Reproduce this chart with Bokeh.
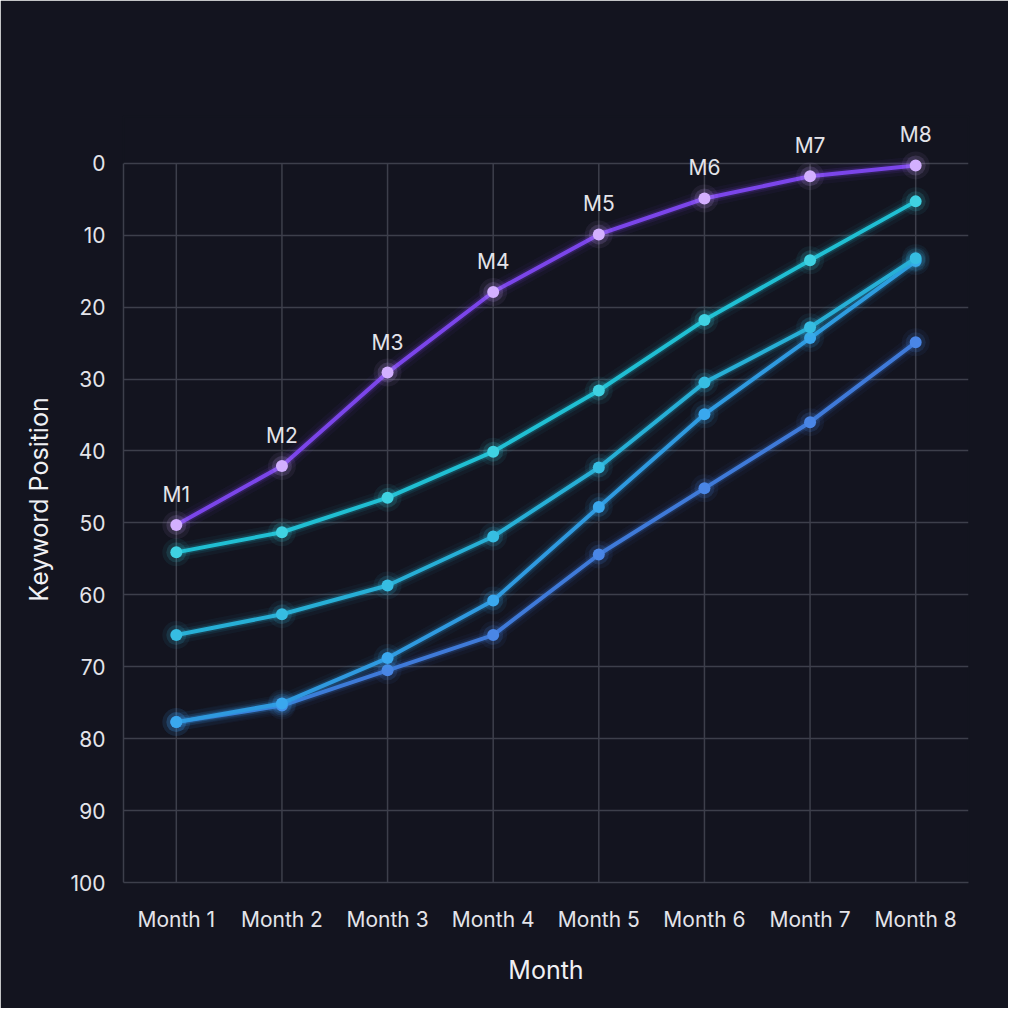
from bokeh.plotting import figure
from bokeh.models import Range1d, FixedTicker, ColumnDataSource, LabelSet
from bokeh.embed import file_html
from bokeh.resources import INLINE
from bokeh.core.properties import value

months = ["Month 1", "Month 2", "Month 3", "Month 4", "Month 5", "Month 6", "Month 7", "Month 8"]
point_labels = ["M1", "M2", "M3", "M4", "M5", "M6", "M7", "M8"]
x_idx = [1, 2, 3, 4, 5, 6, 7, 8]

kw_a = [50.3, 42.1, 29.1, 17.9, 9.9, 4.9, 1.8, 0.3]
kw_b = [54.1, 51.3, 46.5, 40.1, 31.6, 21.8, 13.5, 5.3]
kw_c = [65.6, 62.7, 58.7, 51.9, 42.3, 30.5, 22.8, 13.2]
kw_d = [77.7, 75.1, 68.8, 60.8, 47.8, 34.9, 24.3, 13.6]
kw_e = [77.7, 75.4, 70.5, 65.6, 54.4, 45.2, 36.0, 24.9]

y_ticks = [0, 10, 20, 30, 40, 50, 60, 70, 80, 90, 100]
y_min, y_max = 0, 100

BG = "#13141f"
GRID = "#3d3f4b"
TXT = "#e4e4ea"
FONT = "Inter"

# frame extends a little above position 0 so the M labels are not clipped
p = figure(width=1008, height=1008, output_backend="svg", toolbar_location=None,
           x_range=Range1d(0.5, 8.5), y_range=Range1d(y_max, y_min - 6.5),
           min_border_left=123, min_border_right=40, min_border_top=116, min_border_bottom=126)
p.background_fill_color = BG
p.border_fill_color = BG
p.outline_line_color = BG
p.outline_line_width = 2

p.xaxis.ticker = FixedTicker(ticks=x_idx)
p.xaxis.major_label_overrides = {i: m for i, m in zip(x_idx, months)}
p.yaxis.ticker = FixedTicker(ticks=y_ticks)
p.yaxis.bounds = (y_min, y_max)
p.ygrid.ticker = FixedTicker(ticks=y_ticks)
p.ygrid.grid_line_color = GRID
p.ygrid.grid_line_width = 1.5
p.xgrid.visible = False
p.segment(x0=x_idx, y0=[y_min] * len(x_idx), x1=x_idx, y1=[y_max] * len(x_idx),
          line_color=GRID, line_width=1.5, level="underlay")

for ax in (p.xaxis, p.yaxis):
    ax.axis_line_color = GRID
    ax.axis_line_width = 1.5
    ax.major_tick_line_color = None
    ax.minor_tick_line_color = None
    ax.major_label_text_color = TXT
    ax.major_label_text_font = FONT
    ax.major_label_text_font_size = "21px"
    ax.axis_label_text_color = "#f0f0f4"
    ax.axis_label_text_font = FONT
    ax.axis_label_text_font_style = "normal"
    ax.axis_label_text_font_size = "25px"

p.xaxis.axis_label = "Month"
p.yaxis.axis_label = "Keyword Position"
p.xaxis.major_label_standoff = 18
p.yaxis.major_label_standoff = 12
p.xaxis.axis_label_standoff = 20
p.yaxis.axis_label_standoff = 13

series = [
    (kw_e, "#3f7ad9", "#4a86e6"),
    (kw_d, "#2f9ae0", "#3aa8ee"),
    (kw_c, "#27afd6", "#36bde2"),
    (kw_b, "#20bfd3", "#3fd2e2"),
    (kw_a, "#7b45ea", "#d3b0ff"),
]

for vals, col, mcol in series:
    src = ColumnDataSource(dict(x=x_idx, y=vals))
    p.line("x", "y", source=src, line_color=col, line_width=18, line_alpha=0.05)
    p.line("x", "y", source=src, line_color=col, line_width=11, line_alpha=0.10)
    p.line("x", "y", source=src, line_color=col, line_width=7, line_alpha=0.18)
    p.line("x", "y", source=src, line_color=col, line_width=4)
    p.scatter("x", "y", source=src, size=28, fill_color=mcol, fill_alpha=0.07, line_color=None)
    p.scatter("x", "y", source=src, size=20, fill_color=mcol, fill_alpha=0.14, line_color=None)
    p.scatter("x", "y", source=src, size=12, fill_color=mcol, line_color=None)

lab_src = ColumnDataSource(dict(x=x_idx, y=kw_a, t=point_labels))
labels = LabelSet(x="x", y="y", text="t", source=lab_src, text_color=TXT, text_font=value(FONT),
                  text_font_size="21px", text_align="center", text_baseline="bottom",
                  y_offset=18, level="overlay")
p.add_layout(labels)

open("out.html", "w").write(file_html(p, INLINE))
